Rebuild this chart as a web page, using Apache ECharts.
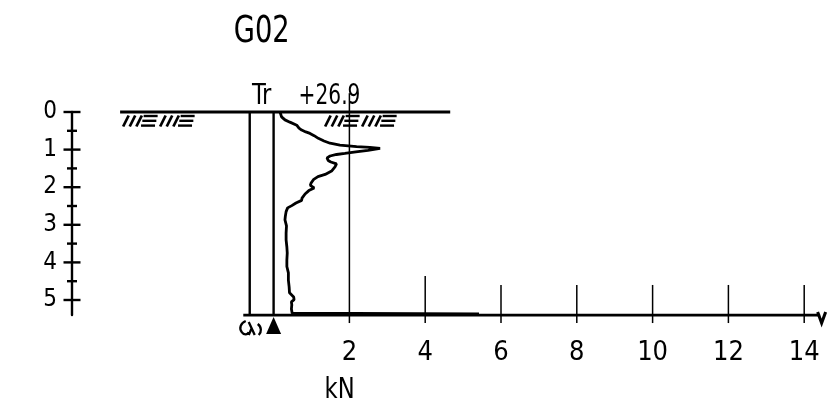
<!DOCTYPE html>
<html><head><meta charset="utf-8">
<script src="https://cdn.jsdelivr.net/npm/echarts@6/dist/echarts.min.js"></script>
<style>html,body{margin:0;padding:0;background:#fff}#c{width:827px;height:409px}</style>
</head><body><div id="c"></div>
<script>
const FONT = '"DejaVu Sans Condensed","Liberation Sans Narrow","DejaVu Sans",sans-serif';

// ---- texts ----
const titleText = 'G02';
const methodLabel = 'Tr';
const elevationLabel = '+26.9';
const unitLabel = 'kN';

// ---- axes ----
const depthTicks = [0, 1, 2, 3, 4, 5];
const depthMinorTicks = [0.5, 1.5, 2.5, 3.5, 4.5];
const forceTicks = [2, 4, 6, 8, 10, 12, 14];
const stopDepth = 5.4;

// ---- sounding curve (force kN, depth m) ----
const forceValues = [0.17,0.21,0.30,0.43,0.61,0.67,0.74,0.85,0.96,1.07,1.18,1.33,1.49,1.75,2.19,2.54,2.81,2.49,2.17,1.88,1.66,1.49,1.41,1.44,1.51,1.66,1.62,1.53,1.36,1.17,1.05,0.99,0.97,1.07,0.93,0.83,0.75,0.74,0.59,0.48,0.37,0.33,0.31,0.30,0.34,0.33,0.33,0.35,0.36,0.35,0.35,0.39,0.39,0.41,0.42,0.53,0.54,0.47,0.48,0.47,0.49,5.42,0.70];
const depthValues = [0.00,0.13,0.21,0.27,0.35,0.43,0.48,0.53,0.57,0.63,0.70,0.77,0.83,0.88,0.92,0.94,0.97,1.02,1.06,1.10,1.13,1.17,1.22,1.29,1.33,1.38,1.46,1.57,1.66,1.72,1.80,1.89,1.95,2.02,2.09,2.18,2.29,2.35,2.42,2.49,2.55,2.65,2.77,2.87,3.03,3.22,3.40,3.59,3.75,3.94,4.11,4.28,4.47,4.65,4.81,4.92,4.99,5.05,5.13,5.24,5.35,5.37,5.39];

const curve = forceValues.map((f, i) => [f, depthValues[i]]);

// layout constants (data units)
const colLeft = -0.63, colRight = 0;
const groundFrom = -4.05, groundTo = 4.66;
const hatchAnchors = [-3.97, 1.36];
const axisFrom = -0.8, axisTo = 14.42;

function renderFrame(params, api) {
  const P = (x, d) => api.coord([x, d]);
  const ch = [];
  const seg = (a, b, w) => ch.push({type: 'line', shape: {x1: a[0], y1: a[1], x2: b[0], y2: b[1]}, style: {stroke: '#000', lineWidth: w}});
  const poly = (pts) => ch.push({type: 'polygon', shape: {points: pts}, style: {fill: '#000'}});
  const txt = (s, x, y, size, align, sx) => ch.push({type: 'text', x: x, y: y, scaleX: sx || 1,
    style: {text: s, x: 0, y: 0, font: size + 'px ' + FONT, fill: '#000', textAlign: align || 'center', textVerticalAlign: 'middle'}});

  // ground line
  seg(P(groundFrom, 0), P(groundTo, 0), 2.8);
  // hatches
  hatchAnchors.forEach(a => {
    const p = P(a, 0);
    for (let g = 0; g < 2; g++) {
      const b = p[0] + g * 37;
      for (let i = 0; i < 3; i++) seg([b + i * 6.6, p[1] + 14.5], [b + i * 6.6 + 5.5, p[1] + 3.5], 2.7);
      for (let j = 0; j < 3; j++) seg([b + 20.5 - j * 1.3, p[1] + 4 + j * 4.8], [b + 34.5 - j * 1.3, p[1] + 4 + j * 4.8], 2.4);
    }
  });
  // column lines
  seg(P(colLeft, 0), P(colLeft, stopDepth), 2.4);
  seg(P(colRight, 0), P(colRight, stopDepth), 2.4);
  // bottom axis
  seg(P(axisFrom, stopDepth), P(axisTo, stopDepth), 2.8);
  // force ticks
  forceTicks.forEach(v => {
    const base = P(v, stopDepth);
    let top;
    if (v === 2) top = P(v, -0.5);
    else if (v === 4) top = P(v, 4.36);
    else top = P(v, 4.6);
    seg([base[0], top[1]], [base[0], base[1] + 8], 1.5);
  });
  // depth axis ticks
  const o = P(0, 0);
  const dAxisX = 72;
  depthTicks.forEach(d => { const p = P(0, d); seg([dAxisX - 8.5, p[1]], [dAxisX + 8.5, p[1]], 2.4); });
  depthMinorTicks.forEach(d => { const p = P(0, d); seg([dAxisX - 5, p[1]], [dAxisX + 5, p[1]], 2.4); });
  // end marker
  const e = P(axisTo, stopDepth);
  ch.push({type: 'polyline', shape: {points: [[e[0] - 2.5, e[1] - 3], [e[0] + 1.5, e[1] + 8], [e[0] + 5.5, e[1] - 3]]},
    style: {stroke: '#000', lineWidth: 3, fill: null}});
  // triangle below right column
  const t = P(colRight, stopDepth);
  poly([[t[0] - 7.5, t[1] + 19], [t[0] + 7.5, t[1] + 19], [t[0], t[1] + 2]]);
  // curly symbol below left column
  const c = P(colLeft, stopDepth);
  const ox = c[0] - 10, oy = c[1] + 6;
  ch.push({type: 'path', shape: {pathData:
    'M' + (ox + 6) + ' ' + oy + ' C' + (ox + 1) + ' ' + (oy + 2) + ' ' + (ox - 1) + ' ' + (oy + 7) + ' ' + (ox + 2) + ' ' + (oy + 11) +
    ' C' + (ox + 4) + ' ' + (oy + 14) + ' ' + (ox + 8) + ' ' + (oy + 14) + ' ' + (ox + 9) + ' ' + (oy + 11) +
    ' M' + (ox + 9) + ' ' + (oy + 1) + ' L' + (ox + 15) + ' ' + (oy + 14) +
    ' M' + (ox + 12) + ' ' + (oy + 7) + ' L' + (ox + 9) + ' ' + (oy + 14) +
    ' M' + (ox + 18) + ' ' + (oy + 3) + ' C' + (ox + 22) + ' ' + (oy + 6) + ' ' + (ox + 22) + ' ' + (oy + 11) + ' ' + (ox + 19) + ' ' + (oy + 14)
  }, style: {stroke: '#000', lineWidth: 2.3, fill: null}});

  // texts
  const g0 = P((colLeft + colRight) / 2, 0);
  txt(titleText, g0[0], g0[1] - 80, 37, 'center', 0.82);
  txt(methodLabel, g0[0], g0[1] - 15, 28, 'center', 0.9);
  const r0 = P(colRight, 0);
  txt(elevationLabel, r0[0] + 25, r0[1] - 15, 28, 'left', 0.8);
  txt(unitLabel, r0[0] + 66, t[1] + 76, 28, 'center', 0.9);
  return {type: 'group', children: ch};
}

const chart = echarts.init(document.getElementById('c'), null, {renderer: 'canvas'});
chart.setOption({
  animation: false,
  backgroundColor: '#fff',
  grid: {left: 235.7, top: 112, width: 587.45, height: 203.04, outerBoundsMode: 'none', containLabel: false},
  xAxis: {
    type: 'value', min: -1, max: 14.5,
    axisLine: {show: false}, axisTick: {show: false}, splitLine: {show: false},
    axisLabel: {customValues: forceTicks, color: '#000', fontSize: 27, fontFamily: FONT, margin: 24}
  },
  yAxis: {
    type: 'value', inverse: true, min: 0, max: stopDepth, position: 'left', offset: 163.7,
    axisLine: {show: true, onZero: false, lineStyle: {color: '#000', width: 2.4}},
    axisTick: {show: false}, splitLine: {show: false},
    axisLabel: {customValues: depthTicks, color: '#000', fontSize: 24, fontFamily: FONT, margin: 15}
  },
  series: [
    {type: 'custom', renderItem: renderFrame, data: [[0, 0]], clip: false, silent: true, z: 1},
    {type: 'line', data: curve, showSymbol: false, clip: false, lineStyle: {color: '#000', width: 2.8}, z: 3, silent: true}
  ]
});
</script></body></html>
